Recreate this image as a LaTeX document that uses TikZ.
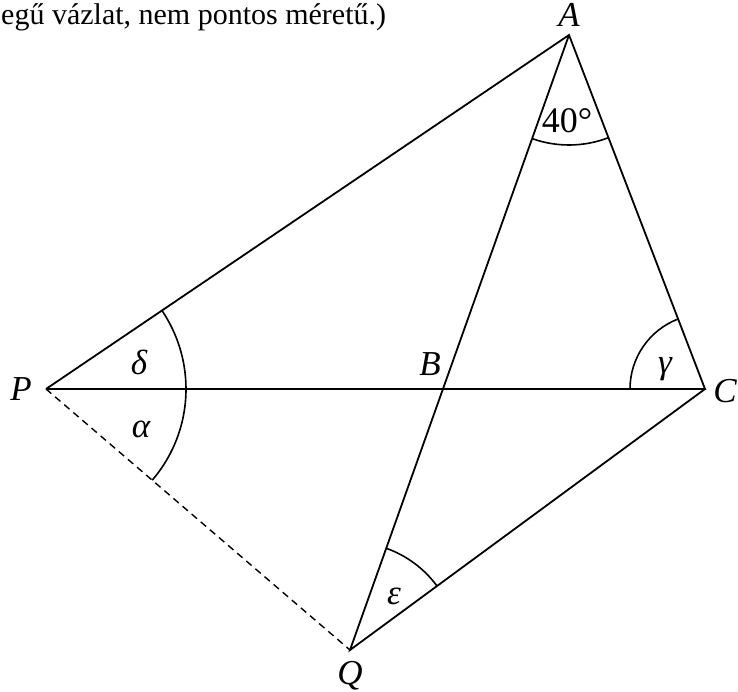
\documentclass[tikz,border=0pt]{standalone}
\usepackage{fontspec}
\setmainfont{Liberation Serif}
\usetikzlibrary{angles, calc}

\begin{document}
\begin{tikzpicture}[x=1pt, y=1pt,
    side/.style={line width=1.8pt, line join=miter},
    dashside/.style={line width=1.4pt, dash pattern=on 7pt off 5pt},
    anglearc/.style={draw, line width=1.6pt},
    vlabel/.style={font=\fontsize{35}{40}\selectfont\itshape, inner sep=0pt},
    alabel/.style={font=\fontsize{36}{40}\selectfont, inner sep=0pt}]

    \useasboundingbox (0,0) rectangle (738,691);

    % Vertices
    \coordinate (A) at (569,656);
    \coordinate (P) at (46,302);
    \coordinate (C) at (705,302);
    \coordinate (Q) at (350,41);
    \coordinate (B) at (intersection of A--Q and P--C);

    % Caption
    \node[anchor=base west, inner sep=0pt, font=\fontsize{30}{36}\selectfont] (note) at (1,666) {egű vázlat, nem pontos méretű.)};

    % Sides
    \draw[side] (P) -- (A) -- (C) -- (P);
    \draw[side] (A) -- (Q) -- (C);
    \draw[dashside] (P) -- (Q);

    % Angle arcs
    \pic[anglearc, angle radius=140pt] {angle = C--P--A};
    \pic[anglearc, angle radius=140pt] {angle = Q--P--C};
    \pic[anglearc, angle radius=75pt] {angle = A--C--P};
    \pic[anglearc, angle radius=108pt] {angle = C--Q--A};
    \pic[anglearc, angle radius=110pt] {angle = Q--A--C};

    % Vertex labels
    \node[vlabel] (labA) at (569,676) {A};
    \node[vlabel] (labP) at (21,302) {P};
    \node[vlabel] (labC) at (725,300) {C};
    \node[vlabel] (labQ) at (350,15) {Q};
    \node[vlabel] (labB) at (430,327) {B};

    % Angle labels
    \node[vlabel] (delta) at (139,329) {δ};
    \node[vlabel] (alpha) at (141,262) {α};
    \node[vlabel] (gamma) at (665,322) {γ};
    \node[vlabel] (eps) at (394,95) {ε};
    \node[alabel] (forty) at (567,570) {40°};

\end{tikzpicture}
\end{document}
